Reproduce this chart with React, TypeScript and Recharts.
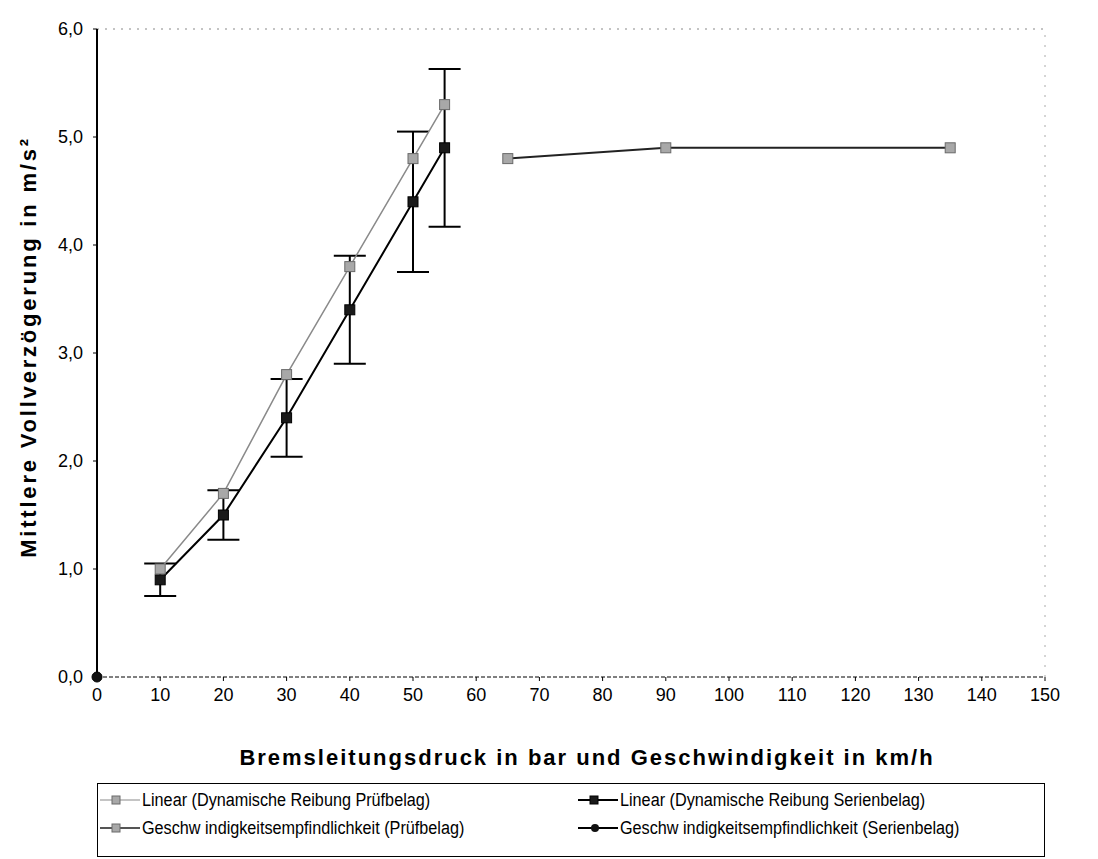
import React from 'react';
import { LineChart, Line, XAxis, YAxis, ErrorBar, ReferenceLine } from 'recharts';

const xLinear = [10, 20, 30, 40, 50, 55];
const yLinearPruef = [1.0, 1.7, 2.8, 3.8, 4.8, 5.3];
const yLinearSerien = [0.9, 1.5, 2.4, 3.4, 4.4, 4.9];
const errLinearSerien = [0.15, 0.23, 0.36, 0.5, 0.65, 0.73];
const xGeschwPruef = [65, 90, 135];
const yGeschwPruef = [4.8, 4.9, 4.9];
const xGeschwSerien = [0];
const yGeschwSerien = [0];
const xTicks = [0, 10, 20, 30, 40, 50, 60, 70, 80, 90, 100, 110, 120, 130, 140, 150];
const yTicks = [0, 1, 2, 3, 4, 5, 6];
const seriesNames = [
  'Linear (Dynamische Reibung Prüfbelag)',
  'Linear (Dynamische Reibung Serienbelag)',
  'Geschw indigkeitsempfindlichkeit (Prüfbelag)',
  'Geschw indigkeitsempfindlichkeit (Serienbelag)',
];

const dataLinearPruef = xLinear.map((x, i) => ({ x, y: yLinearPruef[i] }));
const dataLinearSerien = xLinear.map((x, i) => ({ x, y: yLinearSerien[i], err: errLinearSerien[i] }));
const dataGeschwPruef = xGeschwPruef.map((x, i) => ({ x, y: yGeschwPruef[i] }));
const dataGeschwSerien = xGeschwSerien.map((x, i) => ({ x, y: yGeschwSerien[i] }));

const FONT = '"Liberation Sans", Arial, sans-serif';

const graySquare = (props: any) => {
  const { cx, cy, index } = props;
  if (cx == null || cy == null) return <g key={`g${index}`} />;
  return (
    <rect key={`gs${index}`} x={cx - 5} y={cy - 5} width={10} height={10} fill="#a8a8a8" stroke="#6a6a6a" strokeWidth={1} />
  );
};
const blackSquare = (props: any) => {
  const { cx, cy, index } = props;
  if (cx == null || cy == null) return <g key={`b${index}`} />;
  return (
    <rect key={`bs${index}`} x={cx - 5} y={cy - 5} width={10} height={10} fill="#1a1a1a" stroke="#000" strokeWidth={1} />
  );
};
const blackCircle = (props: any) => {
  const { cx, cy, index } = props;
  if (cx == null || cy == null) return <g key={`c${index}`} />;
  return <circle key={`bc${index}`} cx={cx} cy={cy} r={5} fill="#111" stroke="#000" />;
};

const fmt = (v: number) => v.toFixed(1).replace('.', ',');

const LegendIcon = ({ kind }: { kind: number }) => {
  const line = kind === 0 ? '#8a8a8a' : kind === 2 ? '#555' : '#000';
  return (
    <svg width={40} height={12} style={{ marginRight: 2, flex: 'none' }}>
      <line x1={0} y1={6} x2={40} y2={6} stroke={line} strokeWidth={kind === 0 ? 1.2 : 1.8} />
      {kind === 3 ? (
        <circle cx={17} cy={6} r={4} fill="#111" />
      ) : (
        <rect x={12} y={2} width={8} height={8} fill={kind === 1 ? '#1a1a1a' : '#a8a8a8'} stroke={kind === 1 ? '#000' : '#6a6a6a'} />
      )}
    </svg>
  );
};

export default function App() {
  return (
    <div style={{ position: 'relative', width: 1082, height: 851, fontFamily: FONT, background: '#fff' }}>
      <LineChart width={1082} height={770} margin={{ top: 21, right: 45, bottom: 0, left: 0 }}>
        <XAxis
          dataKey="x"
          type="number"
          domain={[0, 150]}
          ticks={xTicks}
          allowDuplicatedCategory={false}
          height={101}
          tickSize={4}
          tickLine={{ stroke: '#000' }}
          axisLine={{ stroke: '#000', strokeDasharray: '4 2', strokeWidth: 1 }}
          tick={{ fill: '#000', fontSize: 18, fontFamily: FONT }}
          tickMargin={7}
          label={{
            value: 'Bremsleitungsdruck in bar und Geschwindigkeit in km/h',
            position: 'insideBottom',
            offset: 13,
            dx: 16,
            style: { fontSize: 22, fontWeight: 'bold', fill: '#000', fontFamily: FONT, letterSpacing: 2.0 },
          }}
        />
        <YAxis
          type="number"
          domain={[0, 6]}
          ticks={yTicks}
          width={89}
          tickSize={4}
          tickLine={{ stroke: '#000' }}
          axisLine={{ stroke: '#000', strokeWidth: 2 }}
          tick={{ fill: '#000', fontSize: 18, fontFamily: FONT }}
          tickFormatter={fmt}
          tickMargin={10}
          label={{
            value: 'Mittlere Vollverzögerung in m/s²',
            angle: -90,
            position: 'insideLeft',
            offset: 20,
            dy: -6,
            style: { fontSize: 22, fontWeight: 'bold', fill: '#000', fontFamily: FONT, letterSpacing: 2.8, textAnchor: 'middle' },
          }}
        />
        <ReferenceLine y={6} stroke="#888" strokeDasharray="2 6" />
        <ReferenceLine x={150} stroke="#aaa" strokeDasharray="2 8" />
        <Line
          data={dataLinearSerien}
          dataKey="y"
          name={seriesNames[1]}
          stroke="#000"
          strokeWidth={2}
          dot={blackSquare}
          isAnimationActive={false}
        >
          <ErrorBar dataKey="err" width={16} strokeWidth={2} stroke="#000" direction="y" isAnimationActive={false} />
        </Line>
        <Line
          data={dataLinearPruef}
          dataKey="y"
          name={seriesNames[0]}
          stroke="#8a8a8a"
          strokeWidth={1.5}
          dot={graySquare}
          isAnimationActive={false}
        />
        <Line
          data={dataGeschwPruef}
          dataKey="y"
          name={seriesNames[2]}
          stroke="#222"
          strokeWidth={2}
          dot={graySquare}
          isAnimationActive={false}
        />
        <Line
          data={dataGeschwSerien}
          dataKey="y"
          name={seriesNames[3]}
          stroke="#000"
          strokeWidth={2}
          dot={blackCircle}
          isAnimationActive={false}
        />
      </LineChart>
      <div
        style={{
          position: 'absolute',
          left: 89,
          top: 775,
          width: 948,
          height: 74,
          border: '1px solid #000',
          boxSizing: 'border-box',
          display: 'grid',
          gridTemplateColumns: '478px 468px',
          gridTemplateRows: '28px 28px',
          alignItems: 'center',
          padding: '2px 0 2px 2px',
          fontSize: 18,
          color: '#000',
        }}
      >
        {seriesNames.map((n, i) => (
          <div key={n} style={{ whiteSpace: 'nowrap', display: 'flex', alignItems: 'center' }}>
            <LegendIcon kind={i} />
            <span style={{ display: 'inline-block', transform: 'scaleX(0.9)', transformOrigin: 'left center' }}>{n}</span>
          </div>
        ))}
      </div>
    </div>
  );
}
